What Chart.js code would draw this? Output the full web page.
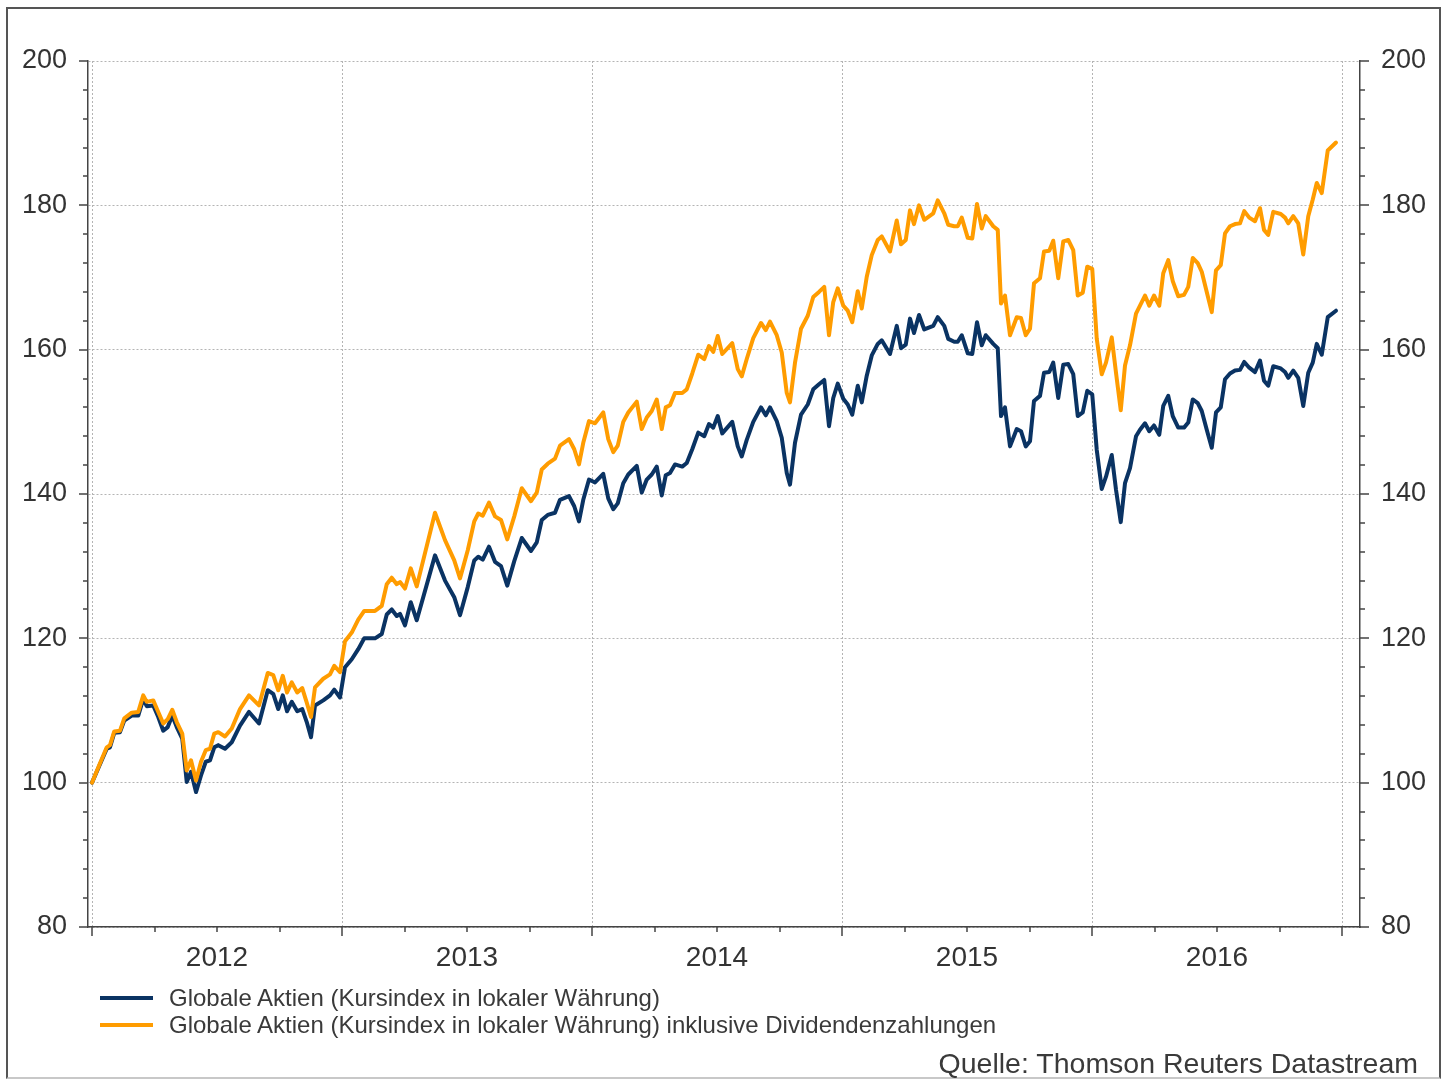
<!DOCTYPE html>
<html lang="de">
<head>
    <meta charset="UTF-8">
    <title>Globale Aktien</title>
    <script src="https://cdn.jsdelivr.net/npm/chart.js"></script>
    <style>
        body {
            margin: 0;
            background: #fff;
            font-family: "Liberation Sans", Arial, sans-serif;
            width: 1452px;
            height: 1079px;
            overflow: hidden;
            position: relative;
        }
        .rahmen {
            position: absolute;
            left: 6px;
            top: 7px;
            width: 1435px;
            height: 1072px;
            box-sizing: border-box;
            border: 2px solid #555;
            border-bottom-color: #c8c8c8;
        }
        canvas {
            position: absolute;
            left: 0;
            top: 0;
        }
        .eintrag {
            position: absolute;
            left: 100px;
            height: 28px;
            line-height: 28px;
            font-size: 24px;
            color: #3a3a3a;
            white-space: nowrap;
            display: flex;
            align-items: center;
        }
        .linie {
            display: inline-block;
            width: 53px;
            height: 4px;
            margin-right: 16px;
        }
        .quelle {
            position: absolute;
            right: 34px;
            top: 1047px;
            font-size: 28.5px;
            line-height: 32px;
            color: #3a3a3a;
        }
    </style>
</head>
<body>
    <div class="rahmen"></div>
    <canvas id="chart" width="1452" height="1079"></canvas>

    <div class="eintrag" style="top:984px"><span class="linie" style="background:#0a3363"></span>Globale Aktien (Kursindex in lokaler Währung)</div>
    <div class="eintrag" style="top:1011px"><span class="linie" style="background:#ff9c00"></span>Globale Aktien (Kursindex in lokaler Währung) inklusive Dividendenzahlungen</div>
    <div class="quelle">Quelle: Thomson Reuters Datastream</div>

    <script>
        // Zeitpunkte als Dezimaljahre (2012.0 = Jahresbeginn 2012)
        const zeit = [
            2012.000, 2012.025, 2012.059, 2012.072, 2012.089, 2012.112, 2012.129, 2012.159, 2012.185, 2012.205,
            2012.219, 2012.245, 2012.265, 2012.285, 2012.303, 2012.321, 2012.339, 2012.361, 2012.379, 2012.396,
            2012.416, 2012.436, 2012.455, 2012.472, 2012.489, 2012.505, 2012.532, 2012.559, 2012.592, 2012.628,
            2012.668, 2012.703, 2012.725, 2012.745, 2012.763, 2012.780, 2012.799, 2012.821, 2012.841, 2012.859,
            2012.876, 2012.892, 2012.925, 2012.952, 2012.969, 2012.992, 2013.012, 2013.039, 2013.065, 2013.089,
            2013.132, 2013.159, 2013.179, 2013.199, 2013.219, 2013.232, 2013.252, 2013.275, 2013.299, 2013.372,
            2013.412, 2013.449, 2013.472, 2013.503, 2013.529, 2013.545, 2013.563, 2013.588, 2013.612, 2013.636,
            2013.661, 2013.689, 2013.719, 2013.756, 2013.779, 2013.799, 2013.823, 2013.852, 2013.872, 2013.908,
            2013.929, 2013.948, 2013.965, 2013.988, 2014.012, 2014.045, 2014.065, 2014.085, 2014.103, 2014.125,
            2014.145, 2014.179, 2014.199, 2014.219, 2014.239, 2014.259, 2014.279, 2014.295, 2014.312, 2014.332,
            2014.361, 2014.379, 2014.401, 2014.425, 2014.449, 2014.468, 2014.485, 2014.503, 2014.521, 2014.561,
            2014.583, 2014.599, 2014.619, 2014.645, 2014.676, 2014.695, 2014.712, 2014.739, 2014.759, 2014.779,
            2014.792, 2014.812, 2014.836, 2014.863, 2014.885, 2014.908, 2014.929, 2014.948, 2014.965, 2014.983,
            2015.005, 2015.023, 2015.041, 2015.063, 2015.079, 2015.099, 2015.119, 2015.143, 2015.159, 2015.192,
            2015.219, 2015.236, 2015.255, 2015.272, 2015.288, 2015.308, 2015.329, 2015.365, 2015.383, 2015.409,
            2015.425, 2015.449, 2015.463, 2015.479, 2015.503, 2015.521, 2015.540, 2015.559, 2015.575, 2015.605,
            2015.623, 2015.636, 2015.652, 2015.672, 2015.699, 2015.716, 2015.735, 2015.752, 2015.768, 2015.792,
            2015.808, 2015.829, 2015.845, 2015.865, 2015.885, 2015.905, 2015.925, 2015.943, 2015.963, 2015.981,
            2016.001, 2016.019, 2016.039, 2016.056, 2016.079, 2016.096, 2016.115, 2016.132, 2016.152, 2016.176,
            2016.192, 2016.212, 2016.229, 2016.248, 2016.269, 2016.285, 2016.305, 2016.323, 2016.345, 2016.368,
            2016.385, 2016.403, 2016.423, 2016.439, 2016.459, 2016.479, 2016.496, 2016.515, 2016.532, 2016.552,
            2016.572, 2016.592, 2016.609, 2016.629, 2016.652, 2016.672, 2016.688, 2016.705, 2016.725, 2016.755,
            2016.772, 2016.785, 2016.805, 2016.825, 2016.845, 2016.865, 2016.883, 2016.899, 2016.919, 2016.943,
            2016.976
        ];

        // Kursindex in lokaler Währung
        const kursindex = [
            100.0, 102.0, 104.7, 104.9, 106.9, 107.0, 108.6, 109.3, 109.3, 111.6,
            110.6, 110.7, 109.1, 107.2, 107.7, 109.3, 107.7, 106.1, 100.1, 101.5,
            98.7, 101.0, 102.9, 103.1, 104.9, 105.2, 104.7, 105.6, 107.9, 109.8,
            108.2, 112.8, 112.3, 110.2, 112.1, 109.9, 111.2, 109.9, 110.2, 108.4,
            106.3, 110.7, 111.4, 112.1, 112.9, 111.8, 116.0, 117.1, 118.5, 120.0,
            120.0, 120.6, 123.3, 124.0, 123.1, 123.4, 121.8, 125.0, 122.5, 131.5,
            128.0, 125.7, 123.2, 127.1, 130.8, 131.3, 130.9, 132.7, 130.6, 130.0,
            127.3, 130.7, 133.9, 132.1, 133.3, 136.4, 137.1, 137.4, 139.2, 139.7,
            138.3, 136.2, 139.2, 142.0, 141.6, 142.8, 139.4, 137.9, 138.7, 141.5,
            142.7, 143.9, 140.2, 142.0, 142.7, 143.8, 139.8, 142.6, 142.9, 144.1,
            143.8, 144.3, 146.2, 148.5, 148.0, 149.7, 149.2, 150.8, 148.4, 150.0,
            146.6, 145.2, 147.5, 150.0, 152.0, 150.9, 152.0, 150.1, 147.8, 142.9,
            141.3, 147.1, 151.0, 152.4, 154.5, 155.2, 155.8, 149.4, 153.3, 155.3,
            153.2, 152.4, 151.0, 155.0, 152.7, 156.4, 159.2, 160.8, 161.3, 159.4,
            163.3, 160.2, 160.7, 164.3, 162.3, 164.8, 162.8, 163.3, 164.5, 163.3,
            161.5, 161.1, 161.1, 162.0, 159.5, 159.4, 163.8, 160.6, 162.0, 160.8,
            160.2, 150.8, 152.0, 146.6, 149.0, 148.7, 146.6, 147.3, 152.9, 153.6,
            156.8, 156.9, 158.2, 153.3, 157.9, 158.0, 156.6, 150.8, 151.3, 154.3,
            153.8, 146.1, 140.7, 142.4, 145.4, 140.6, 136.1, 141.5, 143.6, 148.0,
            148.9, 149.8, 148.7, 149.5, 148.2, 152.2, 153.6, 150.8, 149.2, 149.2,
            149.9, 153.1, 152.6, 151.5, 148.9, 146.4, 151.3, 152.0, 155.9, 156.7,
            157.1, 157.2, 158.3, 157.5, 156.9, 158.5, 155.7, 155.0, 157.7, 157.4,
            156.9, 156.1, 157.1, 156.1, 152.2, 156.8, 158.2, 160.8, 159.3, 164.5,
            165.4
        ];

        // Kursindex inklusive Dividendenzahlungen
        const mitDividenden = [
            100.0, 102.1, 104.9, 105.2, 107.1, 107.2, 108.9, 109.7, 109.8, 112.1,
            111.2, 111.4, 109.8, 108.2, 108.8, 110.1, 108.4, 106.8, 101.7, 103.1,
            100.3, 102.9, 104.5, 104.7, 106.8, 107.0, 106.4, 107.5, 110.2, 112.1,
            110.7, 115.2, 114.9, 112.8, 114.8, 112.5, 113.9, 112.5, 113.1, 111.1,
            109.1, 113.2, 114.4, 115.0, 116.2, 115.3, 119.6, 120.8, 122.6, 123.8,
            123.8, 124.5, 127.5, 128.4, 127.5, 127.8, 126.9, 129.7, 127.2, 137.4,
            133.6, 130.8, 128.3, 132.2, 136.2, 137.3, 137.0, 138.8, 136.9, 136.4,
            133.7, 136.9, 140.8, 139.0, 140.2, 143.4, 144.2, 144.9, 146.7, 147.6,
            146.2, 144.1, 147.1, 150.1, 149.8, 151.3, 147.6, 145.8, 146.7, 150.0,
            151.3, 152.8, 149.0, 150.6, 151.5, 153.1, 149.0, 152.0, 152.3, 154.0,
            154.0, 154.5, 156.7, 159.3, 158.7, 160.5, 159.7, 161.9, 159.4, 160.9,
            157.3, 156.3, 158.7, 161.6, 163.7, 162.7, 163.9, 162.0, 159.6, 154.0,
            152.7, 158.2, 162.9, 164.7, 167.3, 168.0, 168.7, 162.0, 166.6, 168.5,
            166.1, 165.4, 163.8, 168.1, 165.7, 170.1, 173.1, 175.2, 175.7, 173.6,
            177.9, 174.6, 175.2, 179.3, 177.4, 180.0, 178.0, 178.9, 180.7, 178.9,
            177.3, 177.1, 177.1, 178.3, 175.5, 175.4, 180.2, 176.8, 178.5, 177.1,
            176.6, 166.4, 167.5, 162.0, 164.5, 164.4, 162.0, 162.9, 169.2, 169.9,
            173.6, 173.7, 175.1, 169.9, 175.0, 175.2, 173.8, 167.5, 167.9, 171.5,
            171.2, 161.5, 156.6, 158.2, 161.7, 156.8, 151.6, 157.8, 160.6, 165.0,
            166.1, 167.5, 166.1, 167.5, 166.1, 170.6, 172.4, 169.5, 167.4, 167.6,
            168.7, 172.7, 172.0, 170.8, 168.0, 165.2, 171.0, 171.7, 176.1, 177.1,
            177.4, 177.5, 179.2, 178.3, 177.8, 179.6, 176.6, 175.9, 179.1, 178.8,
            178.3, 177.5, 178.5, 177.5, 173.2, 178.5, 180.8, 183.1, 181.7, 187.6,
            188.7
        ];

        const jahre = [2012, 2013, 2014, 2015, 2016];
        const yTicks = [80, 100, 120, 140, 160, 180, 200];

        const punkte = werte => werte.map((v, i) => ({ x: zeit[i], y: v }));

        // Jahresgrenzen + Quartale; Beschriftung jeweils in der Jahresmitte
        const xTickWerte = [];
        jahre.forEach(j => { xTickWerte.push(j, j + 0.25, j + 0.5, j + 0.75); });
        xTickWerte.push(jahre[jahre.length - 1] + 1);

        const schrift = { family: '"Liberation Sans", Arial, sans-serif', size: 27 };
        const achsenFarbe = '#444';
        const gitterFarbe = '#b4b4b4';

        // kurze Teilstriche an den Achsen
        const teilstriche = {
            id: 'teilstriche',
            afterDraw(chart) {
                const { ctx, chartArea, scales } = chart;
                ctx.save();
                ctx.strokeStyle = achsenFarbe;
                ctx.lineWidth = 1.5;
                ctx.beginPath();
                for (let v = yTicks[0]; v <= yTicks[yTicks.length - 1]; v += 4) {
                    const y = Math.round(scales.y.getPixelForValue(v));
                    const l = v % 20 === 0 ? 9 : 5;
                    ctx.moveTo(chartArea.left - l, y);
                    ctx.lineTo(chartArea.left, y);
                    ctx.moveTo(chartArea.right, y);
                    ctx.lineTo(chartArea.right + l, y);
                }
                xTickWerte.forEach(q => {
                    const x = Math.round(scales.x.getPixelForValue(q));
                    const l = Number.isInteger(q) ? 9 : 5;
                    ctx.moveTo(x, chartArea.bottom);
                    ctx.lineTo(x, chartArea.bottom + l);
                });
                ctx.stroke();
                ctx.restore();
            }
        };

        const ctx = document.getElementById('chart').getContext('2d');
        new Chart(ctx, {
            type: 'line',
            data: {
                datasets: [{
                    label: 'Globale Aktien (Kursindex in lokaler Währung)',
                    data: punkte(kursindex),
                    borderColor: '#0a3363',
                    borderWidth: 4,
                    order: 2
                }, {
                    label: 'Globale Aktien (Kursindex in lokaler Währung) inklusive Dividendenzahlungen',
                    data: punkte(mitDividenden),
                    borderColor: '#ff9c00',
                    borderWidth: 4,
                    order: 1
                }]
            },
            options: {
                responsive: false,
                animation: false,
                parsing: false,
                elements: {
                    point: { radius: 0 },
                    line: { tension: 0, borderJoinStyle: 'round', borderCapStyle: 'round' }
                },
                layout: { padding: { top: 61, bottom: 92, left: 0, right: 0 } },
                plugins: {
                    legend: { display: false },
                    tooltip: { enabled: false }
                },
                scales: {
                    x: {
                        type: 'linear',
                        min: 2011.984,
                        max: 2017.072,
                        afterBuildTicks: s => { s.ticks = xTickWerte.map(v => ({ value: v })); },
                        afterFit: s => { s.height = 60; },
                        ticks: {
                            autoSkip: false,
                            maxRotation: 0,
                            padding: 14,
                            color: '#333',
                            font: { family: schrift.family, size: 28 },
                            callback: v => (v % 1 === 0.5 ? String(Math.floor(v)) : '')
                        },
                        grid: {
                            drawTicks: false,
                            color: c => (Number.isInteger(c.tick.value) ? gitterFarbe : 'rgba(0,0,0,0)'),
                            lineWidth: 1
                        },
                        border: { display: true, color: achsenFarbe, width: 1.5, dash: [2, 2] }
                    },
                    y: {
                        position: 'left',
                        min: 80,
                        max: 200,
                        afterBuildTicks: s => { s.ticks = yTicks.map(v => ({ value: v })); },
                        afterFit: s => { s.width = 88; },
                        ticks: { padding: 21, color: '#333', font: schrift },
                        grid: { drawTicks: false, color: gitterFarbe, lineWidth: 1 },
                        border: { display: true, color: achsenFarbe, width: 1.5, dash: [2, 2] }
                    },
                    y2: {
                        position: 'right',
                        min: 80,
                        max: 200,
                        afterBuildTicks: s => { s.ticks = yTicks.map(v => ({ value: v })); },
                        afterFit: s => { s.width = 92; },
                        ticks: { padding: 21, color: '#333', font: schrift },
                        grid: { drawTicks: false, drawOnChartArea: false },
                        border: { display: true, color: achsenFarbe, width: 1.5 }
                    }
                }
            },
            plugins: [teilstriche]
        });
    </script>
</body>
</html>
